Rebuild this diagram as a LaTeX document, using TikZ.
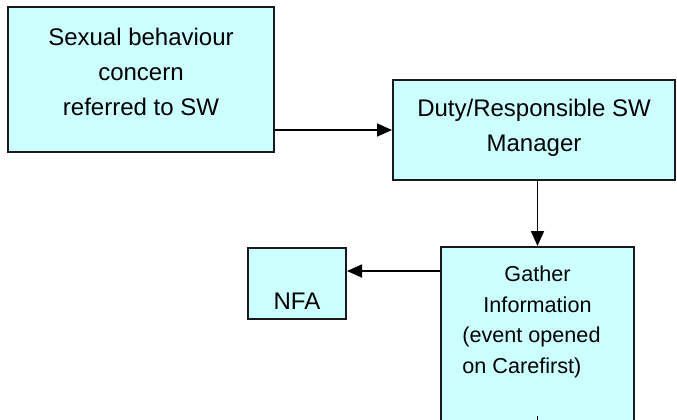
\documentclass[tikz,border=0pt]{standalone}
\usepackage{fontspec}
\usepackage{calc}
\setmainfont{Liberation Sans}
\usetikzlibrary{arrows.meta, positioning, calc}

\definecolor{boxcyan}{HTML}{CCFFFF}

\begin{document}
\begin{tikzpicture}[
    x=1pt, y=-1pt,
    % --- Global Styles ---
    box/.style={draw=black!90, line width=2pt, fill=boxcyan, rectangle, inner sep=0pt},
    txt/.style={align=center, inner sep=0pt, font=\fontsize{24}{35}\selectfont},
    smalltxt/.style={txt, font=\fontsize{21.6}{30.7}\selectfont},
    flow/.style={-{Triangle[length=15pt, width=13pt]}, line width=1.7pt, color=black},
    stub/.style={line width=1.7pt, color=black}
]

    % --- Frame ---
    \useasboundingbox (0,0) rectangle (677,420);
    \clip (0,0) rectangle (677,420);

    % --- Boxes ---
    \node[box, minimum width=266pt, minimum height=145pt] (concern) at (141,79.5) {};
    \node[box, minimum width=282pt, minimum height=100pt] (duty) at (534,130) {};
    \node[box, minimum width=193pt, minimum height=178pt] (gather) at (537.5,336) {};
    \node[box, minimum width=98pt, minimum height=71pt] (nfa) at (297,283.5) {};

    % --- Texts ---
    \node[txt] (concerntext) at ([yshift=7.5pt]concern.center) {Sexual behaviour\\concern\\referred to SW};
    \node[txt] (dutytext) at ([yshift=2.5pt]duty.center) {Duty/Responsible SW\\Manager};
    \node[smalltxt] (gathertext) at ([yshift=14pt]gather.center)
        {Gather\\Information\\\hspace*{-12pt}(event opened\\\hspace*{-12pt}\makebox[\widthof{(event opened}][l]{on Carefirst)}};
    \node[txt] (nfatext) at ([yshift=-18pt]nfa.center) {NFA};

    % --- Connectors ---
    \coordinate (nfaport) at ([yshift=-24pt]nfa.north east);
    \draw[flow] (concern.east |- duty.west) -- (duty.west);
    \draw[flow] (gather.north |- duty.south) -- (gather.north);
    \draw[flow] (gather.west |- nfaport) -- (nfaport);
    \draw[stub] ([yshift=10pt]gather.south) -- (gather.south);

\end{tikzpicture}
\end{document}
